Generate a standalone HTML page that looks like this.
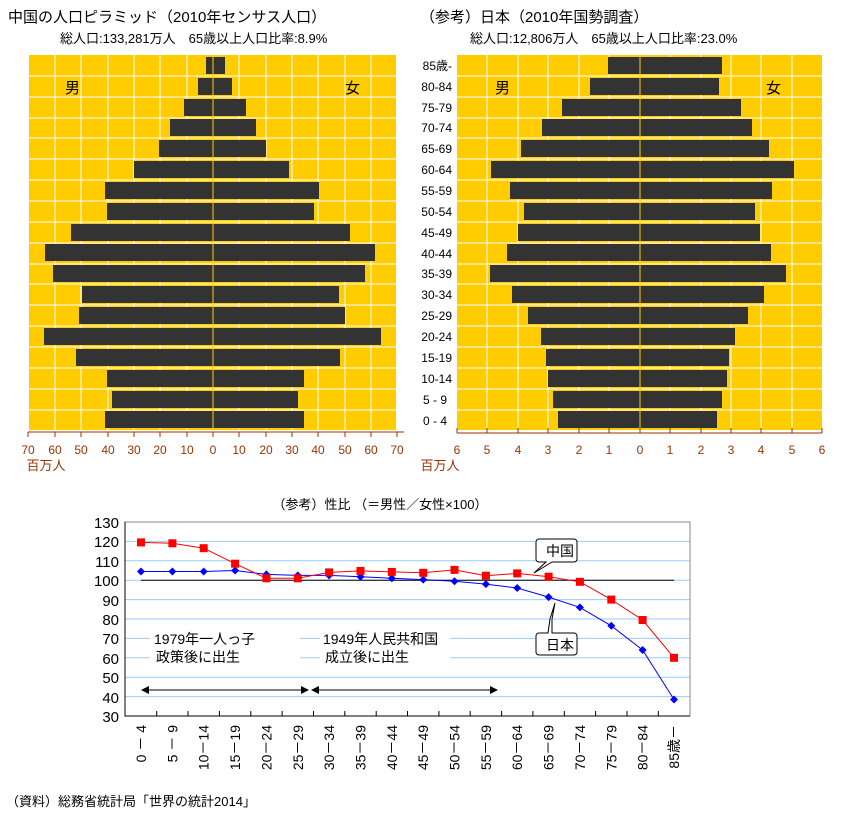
<!DOCTYPE html>
<html><head><meta charset="utf-8"><style>
body{margin:0;background:#fff}
text{font-family:"Liberation Sans","Noto Sans CJK JP",sans-serif}
</style></head><body>
<svg width="844" height="815" xmlns="http://www.w3.org/2000/svg" font-size="13">
<text x="8" y="22" font-size="15">中国の人口ピラミッド（2010年センサス人口）</text>
<text x="60" y="43" font-size="13">総人口:133,281万人　65歳以上人口比率:8.9%</text>
<text x="420" y="22" font-size="15">（参考）日本（2010年国勢調査）</text>
<text x="470" y="43" font-size="13">総人口:12,806万人　65歳以上人口比率:23.0%</text>
<g id="china">
<rect x="28" y="55" width="369" height="375" fill="#ffcc00"/>
<g stroke="#fff" stroke-width="1">
<path d="M28.5 55V430M55 55V430M81 55V430M108 55V430M134 55V430M160 55V430M187 55V430M239 55V430M266 55V430M292 55V430M318 55V430M345 55V430M371 55V430M396.5 55V430"/>
<path d="M28 76H397M28 97H397M28 118H397M28 138H397M28 159H397M28 180H397M28 201H397M28 222H397M28 243H397M28 264H397M28 284H397M28 305H397M28 326H397M28 347H397M28 368H397M28 389H397M28 410H397"/>
</g>
<g fill="#333">
<rect x="206" y="57" width="19" height="17"/><rect x="198" y="78" width="34" height="17"/>
<rect x="184" y="99" width="62" height="17"/><rect x="170" y="119" width="86" height="17"/>
<rect x="159" y="140" width="107" height="17"/><rect x="134" y="161" width="155" height="17"/>
<rect x="105" y="182" width="214" height="17"/><rect x="107" y="203" width="207" height="17"/>
<rect x="71" y="224" width="279" height="17"/><rect x="45" y="244" width="330" height="17"/>
<rect x="53" y="265" width="312" height="17"/><rect x="82" y="286" width="257" height="17"/>
<rect x="79" y="307" width="266" height="17"/><rect x="44" y="328" width="337" height="17"/>
<rect x="76" y="349" width="264" height="17"/><rect x="107" y="370" width="197" height="17"/>
<rect x="112" y="391" width="186" height="17"/><rect x="105" y="411" width="199" height="17"/>
</g>
<line x1="213" y1="55" x2="213" y2="430" stroke="#ffcc00"/>
<text x="65" y="93" font-size="15">男</text><text x="345" y="93" font-size="15">女</text>
<path d="M28 432H404" stroke="#993300"/>
<g stroke="#993300"><path d="M28 432v5M55 432v5M81 432v5M108 432v5M134 432v5M160 432v5M187 432v5M213 432v5M239 432v5M266 432v5M292 432v5M318 432v5M345 432v5M371 432v5M397 432v5"/></g>
<g fill="#993300" font-size="12" text-anchor="middle">
<text x="28" y="454">70</text><text x="55" y="454">60</text><text x="81" y="454">50</text><text x="108" y="454">40</text><text x="134" y="454">30</text><text x="160" y="454">20</text><text x="187" y="454">10</text><text x="213" y="454">0</text><text x="239" y="454">10</text><text x="266" y="454">20</text><text x="292" y="454">30</text><text x="318" y="454">40</text><text x="345" y="454">50</text><text x="371" y="454">60</text><text x="397" y="454">70</text>
<text x="46" y="470" font-size="13">百万人</text>
</g>
</g>
<g id="japan">
<rect x="457" y="55" width="365" height="375" fill="#ffcc00"/>
<g stroke="#fff">
<path d="M487 55V430M518 55V430M548 55V430M579 55V430M609 55V430M670 55V430M701 55V430M731 55V430M761 55V430M792 55V430"/>
<path d="M457 76H822M457 97H822M457 118H822M457 138H822M457 159H822M457 180H822M457 201H822M457 222H822M457 243H822M457 264H822M457 284H822M457 305H822M457 326H822M457 347H822M457 368H822M457 389H822M457 410H822"/>
</g>
<g fill="#333">
<rect x="608" y="57" width="114" height="17"/><rect x="590" y="78" width="129" height="17"/>
<rect x="562" y="99" width="179" height="17"/><rect x="542" y="119" width="210" height="17"/>
<rect x="521" y="140" width="248" height="17"/><rect x="491" y="161" width="303" height="17"/>
<rect x="510" y="182" width="262" height="17"/><rect x="524" y="203" width="231" height="17"/>
<rect x="518" y="224" width="242" height="17"/><rect x="507" y="244" width="264" height="17"/>
<rect x="490" y="265" width="296" height="17"/><rect x="512" y="286" width="252" height="17"/>
<rect x="528" y="307" width="220" height="17"/><rect x="541" y="328" width="194" height="17"/>
<rect x="546" y="349" width="183" height="17"/><rect x="548" y="370" width="179" height="17"/>
<rect x="553" y="391" width="169" height="17"/><rect x="558" y="411" width="159" height="17"/>
</g>
<line x1="640" y1="55" x2="640" y2="430" stroke="#ffcc00"/>
<text x="495" y="93" font-size="15">男</text><text x="766" y="93" font-size="15">女</text>
<g font-size="12" text-anchor="end">
<text x="452" y="70">85歳-</text><text x="452" y="91">80-84</text><text x="452" y="112">75-79</text><text x="452" y="132">70-74</text><text x="452" y="153">65-69</text><text x="452" y="174">60-64</text><text x="452" y="195">55-59</text><text x="452" y="216">50-54</text><text x="452" y="237">45-49</text><text x="452" y="258">40-44</text><text x="452" y="278">35-39</text><text x="452" y="299">30-34</text><text x="452" y="320">25-29</text><text x="452" y="341">20-24</text><text x="452" y="362">15-19</text><text x="452" y="383">10-14</text><text x="447" y="404">5 - 9</text><text x="447" y="425">0 - 4</text>
</g>
<path d="M457 433H822" stroke="#993300"/>
<g stroke="#993300"><path d="M457 433v-5M487 433v-5M518 433v-5M548 433v-5M579 433v-5M609 433v-5M640 433v-5M670 433v-5M701 433v-5M731 433v-5M761 433v-5M792 433v-5M822 433v-5"/></g>
<g fill="#993300" font-size="12" text-anchor="middle">
<text x="457" y="454">6</text><text x="487" y="454">5</text><text x="518" y="454">4</text><text x="548" y="454">3</text><text x="579" y="454">2</text><text x="609" y="454">1</text><text x="640" y="454">0</text><text x="670" y="454">1</text><text x="701" y="454">2</text><text x="731" y="454">3</text><text x="761" y="454">4</text><text x="792" y="454">5</text><text x="822" y="454">6</text>
<text x="440" y="470" font-size="13">百万人</text>
</g>
</g>
<g id="ratio">
<text x="380" y="509" font-size="13" text-anchor="middle">（参考）性比 （＝男性／女性×100）</text>
<g stroke="#99ccff">
<path d="M125 541.4H690M125 560.8H690M125 580.2H690M125 599.6H690M125 619H690M125 638.4H690M125 657.8H690M125 677.2H690M125 696.6H690"/>
</g>
<rect x="125" y="522" width="565" height="194" fill="none" stroke="#888"/>
<path d="M125 522V716H690" stroke="#000" fill="none"/>
<g font-size="15" text-anchor="end">
<text x="119" y="528">130</text><text x="119" y="547">120</text><text x="119" y="567">110</text><text x="119" y="586">100</text><text x="119" y="606">90</text><text x="119" y="625">80</text><text x="119" y="644">70</text><text x="119" y="664">60</text><text x="119" y="683">50</text><text x="119" y="703">40</text><text x="119" y="722">30</text>
</g>
<g stroke="#000"><path d="M156.7 716v-5M188 716v-5M219.4 716v-5M250.8 716v-5M282.1 716v-5M313.5 716v-5M344.8 716v-5M376.2 716v-5M407.5 716v-5M438.9 716v-5M470.2 716v-5M501.6 716v-5M532.9 716v-5M564.3 716v-5M595.6 716v-5M627 716v-5M658.3 716v-5"/></g>
<line x1="141" y1="580.2" x2="674" y2="580.2" stroke="#000"/>
<rect x="150" y="626" width="150" height="40" fill="#fff"/>
<rect x="320" y="626" width="130" height="40" fill="#fff"/>
<g font-size="14">
<text x="154" y="644">1979年一人っ子</text><text x="156" y="662">政策後に出生</text>
<text x="323" y="644">1949年人民共和国</text><text x="325" y="662">成立後に出生</text>
</g>
<g stroke="#000"><path d="M146 690H305M315 690H494"/></g>
<path d="M141 690l8-4v8zM309 690l-8-4v8zM311 690l8-4v8zM498 690l-8-4v8z"/>
<polyline fill="none" stroke="#0000ff" points="141,571.5 172.4,571.5 203.7,571.5 235.1,570.5 266.4,574.4 297.8,575.4 329.1,575.4 360.5,576.7 391.8,578.3 423.2,579.6 454.5,581.2 485.9,584.1 517.2,588 548.6,597.1 579.9,607.4 611.3,625.8 642.6,650 674,699.5"/>
<g fill="#0000ff">
<path d="M141 567.5l4 4-4 4-4-4zM172.4 567.5l4 4-4 4-4-4zM203.7 567.5l4 4-4 4-4-4zM235.1 566.5l4 4-4 4-4-4zM266.4 570.4l4 4-4 4-4-4zM297.8 571.4l4 4-4 4-4-4zM329.1 571.4l4 4-4 4-4-4zM360.5 572.7l4 4-4 4-4-4zM391.8 574.3l4 4-4 4-4-4zM423.2 575.6l4 4-4 4-4-4zM454.5 577.2l4 4-4 4-4-4zM485.9 580.1l4 4-4 4-4-4zM517.2 584l4 4-4 4-4-4zM548.6 593.1l4 4-4 4-4-4zM579.9 603.4l4 4-4 4-4-4zM611.3 621.8l4 4-4 4-4-4zM642.6 646l4 4-4 4-4-4zM674 695.5l4 4-4 4-4-4z"/>
</g>
<polyline fill="none" stroke="#ff0000" points="141,542.4 172.4,543.3 203.7,548.2 235.1,563.7 266.4,578.3 297.8,578.3 329.1,572.4 360.5,570.9 391.8,571.9 423.2,572.8 454.5,569.9 485.9,575.7 517.2,573.4 548.6,576.7 579.9,581.8 611.3,599.6 642.6,620 674,657.8"/>
<g fill="#ff0000">
<rect x="137" y="538.4" width="8" height="8"/><rect x="168.4" y="539.3" width="8" height="8"/><rect x="199.7" y="544.2" width="8" height="8"/><rect x="231.1" y="559.7" width="8" height="8"/><rect x="262.4" y="574.3" width="8" height="8"/><rect x="293.8" y="574.3" width="8" height="8"/><rect x="325.1" y="568.4" width="8" height="8"/><rect x="356.5" y="566.9" width="8" height="8"/><rect x="387.8" y="567.9" width="8" height="8"/><rect x="419.2" y="568.8" width="8" height="8"/><rect x="450.5" y="565.9" width="8" height="8"/><rect x="481.9" y="571.7" width="8" height="8"/><rect x="513.2" y="569.4" width="8" height="8"/><rect x="544.6" y="572.7" width="8" height="8"/><rect x="575.9" y="577.8" width="8" height="8"/><rect x="607.3" y="595.6" width="8" height="8"/><rect x="638.6" y="616" width="8" height="8"/><rect x="670" y="653.8" width="8" height="8"/>
</g>
<path d="M539 539h35a3 3 0 0 1 3 3v17a3 3 0 0 1-3 3h-22l-18 11l12-11h-7a3 3 0 0 1-3-3v-17a3 3 0 0 1 3-3z" fill="#fff" stroke="#000"/>
<text x="546" y="556" font-size="14">中国</text>
<path d="M539 633h9l2-14l5-16l-3 16v14h22a3 3 0 0 1 3 3v16a3 3 0 0 1-3 3h-35a3 3 0 0 1-3-3v-16a3 3 0 0 1 3-3z" fill="#fff" stroke="#000"/>
<text x="546" y="650" font-size="14">日本</text>
<g font-size="14" text-anchor="end">
<text transform="translate(146,725) rotate(-90)">0 － 4</text>
<text transform="translate(177.4,725) rotate(-90)">5 － 9</text>
<text transform="translate(208.7,725) rotate(-90)">10－14</text>
<text transform="translate(240.1,725) rotate(-90)">15－19</text>
<text transform="translate(271.4,725) rotate(-90)">20－24</text>
<text transform="translate(302.8,725) rotate(-90)">25－29</text>
<text transform="translate(334.1,725) rotate(-90)">30－34</text>
<text transform="translate(365.5,725) rotate(-90)">35－39</text>
<text transform="translate(396.8,725) rotate(-90)">40－44</text>
<text transform="translate(428.2,725) rotate(-90)">45－49</text>
<text transform="translate(459.5,725) rotate(-90)">50－54</text>
<text transform="translate(490.9,725) rotate(-90)">55－59</text>
<text transform="translate(522.2,725) rotate(-90)">60－64</text>
<text transform="translate(553.6,725) rotate(-90)">65－69</text>
<text transform="translate(584.9,725) rotate(-90)">70－74</text>
<text transform="translate(616.3,725) rotate(-90)">75－79</text>
<text transform="translate(647.6,725) rotate(-90)">80－84</text>
<text transform="translate(679,725) rotate(-90)">85歳－</text>
</g>
</g>
<text x="6" y="806" font-size="13">（資料）総務省統計局「世界の統計2014」</text>
</svg>
</body></html>
